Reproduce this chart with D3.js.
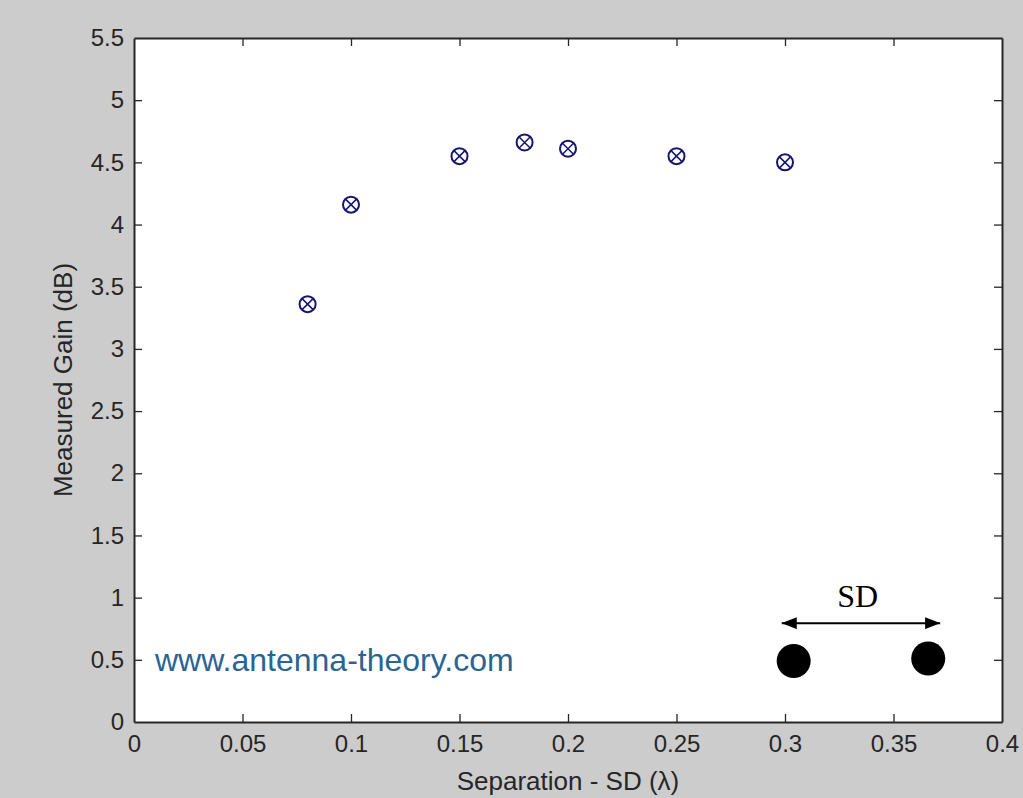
<!DOCTYPE html>
<html>
<head>
<meta charset="utf-8">
<script src="https://cdn.jsdelivr.net/npm/d3@7"></script>
<style>
  body { margin: 0; background: #cccccc; }
</style>
</head>
<body>
<script>
// measured gain vs separation
let separation = [0.08, 0.1, 0.15, 0.18, 0.2, 0.25, 0.3];
let gain = [3.36, 4.16, 4.55, 4.66, 4.61, 4.55, 4.50];
let xTicks = [0, 0.05, 0.1, 0.15, 0.2, 0.25, 0.3, 0.35, 0.4];
let yTicks = [0, 0.5, 1, 1.5, 2, 2.5, 3, 3.5, 4, 4.5, 5, 5.5];

let width = 1023;
let height = 798;
let margin = {top: 38, right: 21, bottom: 76, left: 134};
let sans = "Liberation Sans, Arial, sans-serif";

let x = d3.scaleLinear()
          .domain([0, 0.4])
          .range([margin.left, width - margin.right]);
let y = d3.scaleLinear()
          .domain([0, 5.5])
          .range([height - margin.bottom, margin.top]);

let svg = d3.select("body")
            .append("svg")
            .attr("width", width)
            .attr("height", height)
            .attr("font-family", sans);

svg.append("rect")
   .attr("width", width)
   .attr("height", height)
   .attr("fill", "#cccccc");

svg.append("rect")
   .attr("x", margin.left)
   .attr("y", margin.top)
   .attr("width", width - margin.left - margin.right)
   .attr("height", height - margin.top - margin.bottom)
   .attr("fill", "#fff");

let tickLen = 8;
let fmt = d => String(d);

// axes, ticks pointing in, mirrored on top/right
let xAxis = svg.append("g")
               .attr("transform", `translate(0,${y(0)})`)
               .call(d3.axisBottom(x).tickValues(xTicks).tickFormat(fmt).tickSizeInner(-tickLen).tickSizeOuter(0).tickPadding(13));
let xTop = svg.append("g")
              .attr("transform", `translate(0,${y(5.5)})`)
              .call(d3.axisTop(x).tickValues(xTicks).tickFormat("").tickSizeInner(-tickLen).tickSizeOuter(0));
let yAxis = svg.append("g")
               .attr("transform", `translate(${x(0)},0)`)
               .call(d3.axisLeft(y).tickValues(yTicks).tickFormat(fmt).tickSizeInner(-tickLen).tickSizeOuter(0).tickPadding(10));
let yRight = svg.append("g")
                .attr("transform", `translate(${x(0.4)},0)`)
                .call(d3.axisRight(y).tickValues(yTicks).tickFormat("").tickSizeInner(-tickLen).tickSizeOuter(0));

[xAxis, xTop, yAxis, yRight].forEach(g => {
  g.attr("font-family", sans).attr("font-size", 24);
  g.select(".domain").attr("stroke", "#262626").attr("stroke-width", 2);
  g.selectAll(".tick line").attr("stroke", "#262626").attr("stroke-width", 1.3);
  g.selectAll(".tick text").attr("fill", "#262626");
});
// hide tick marks at the frame corners
[xAxis, xTop].forEach(g => g.selectAll(".tick line").filter(d => d === 0 || d === 0.4).remove());
[yAxis, yRight].forEach(g => g.selectAll(".tick line").filter(d => d === 0 || d === 5.5).remove());

// axis labels
svg.append("text")
   .attr("x", x(0.2))
   .attr("y", 790)
   .attr("text-anchor", "middle")
   .attr("font-size", 26)
   .attr("fill", "#262626")
   .text("Separation - SD (λ)");
svg.append("text")
   .attr("transform", `translate(72,380) rotate(-90)`)
   .attr("text-anchor", "middle")
   .attr("font-size", 26)
   .attr("fill", "#262626")
   .text("Measured Gain (dB)");

// markers: circle with x
let pts = svg.selectAll(".pt")
             .data(separation.map((s, i) => ({s: s, g: gain[i]})))
             .enter().append("g")
             .attr("class", "pt")
             .attr("transform", d => `translate(${x(d.s)},${y(d.g)})`);
pts.append("circle")
   .attr("r", 8)
   .attr("fill", "none")
   .attr("stroke", "#16166e")
   .attr("stroke-width", 2);
pts.append("path")
   .attr("d", "M-5.5,-5.5L5.5,5.5M-5.5,5.5L5.5,-5.5")
   .attr("stroke", "#16166e")
   .attr("stroke-width", 1.5);

// watermark
svg.append("text")
   .attr("x", 155)
   .attr("y", 671)
   .attr("font-size", 32)
   .attr("fill", "#2a6496")
   .text("www.antenna-theory.com");

// SD diagram
let defs = svg.append("defs");
defs.append("marker")
    .attr("id", "arr")
    .attr("viewBox", "0 0 10 8")
    .attr("refX", 10).attr("refY", 4)
    .attr("markerWidth", 7.5).attr("markerHeight", 6)
    .attr("markerUnits", "strokeWidth")
    .attr("orient", "auto-start-reverse")
    .append("path").attr("d", "M0,0L10,4L0,8z").attr("fill", "#000");

svg.append("line")
   .attr("x1", x(0.2985)).attr("x2", x(0.3715))
   .attr("y1", y(0.795)).attr("y2", y(0.795))
   .attr("stroke", "#000").attr("stroke-width", 2)
   .attr("marker-start", "url(#arr)")
   .attr("marker-end", "url(#arr)");
svg.append("text")
   .attr("x", x(0.3335))
   .attr("y", y(0.925))
   .attr("text-anchor", "middle")
   .attr("font-family", "Liberation Serif, Times New Roman, serif")
   .attr("font-size", 32)
   .attr("fill", "#000")
   .text("SD");
svg.selectAll(".dot")
   .data([{s: 0.304, g: 0.49}, {s: 0.366, g: 0.51}])
   .enter().append("circle")
   .attr("class", "dot")
   .attr("cx", d => x(d.s))
   .attr("cy", d => y(d.g))
   .attr("r", 17)
   .attr("fill", "#000");
</script>
</body>
</html>
